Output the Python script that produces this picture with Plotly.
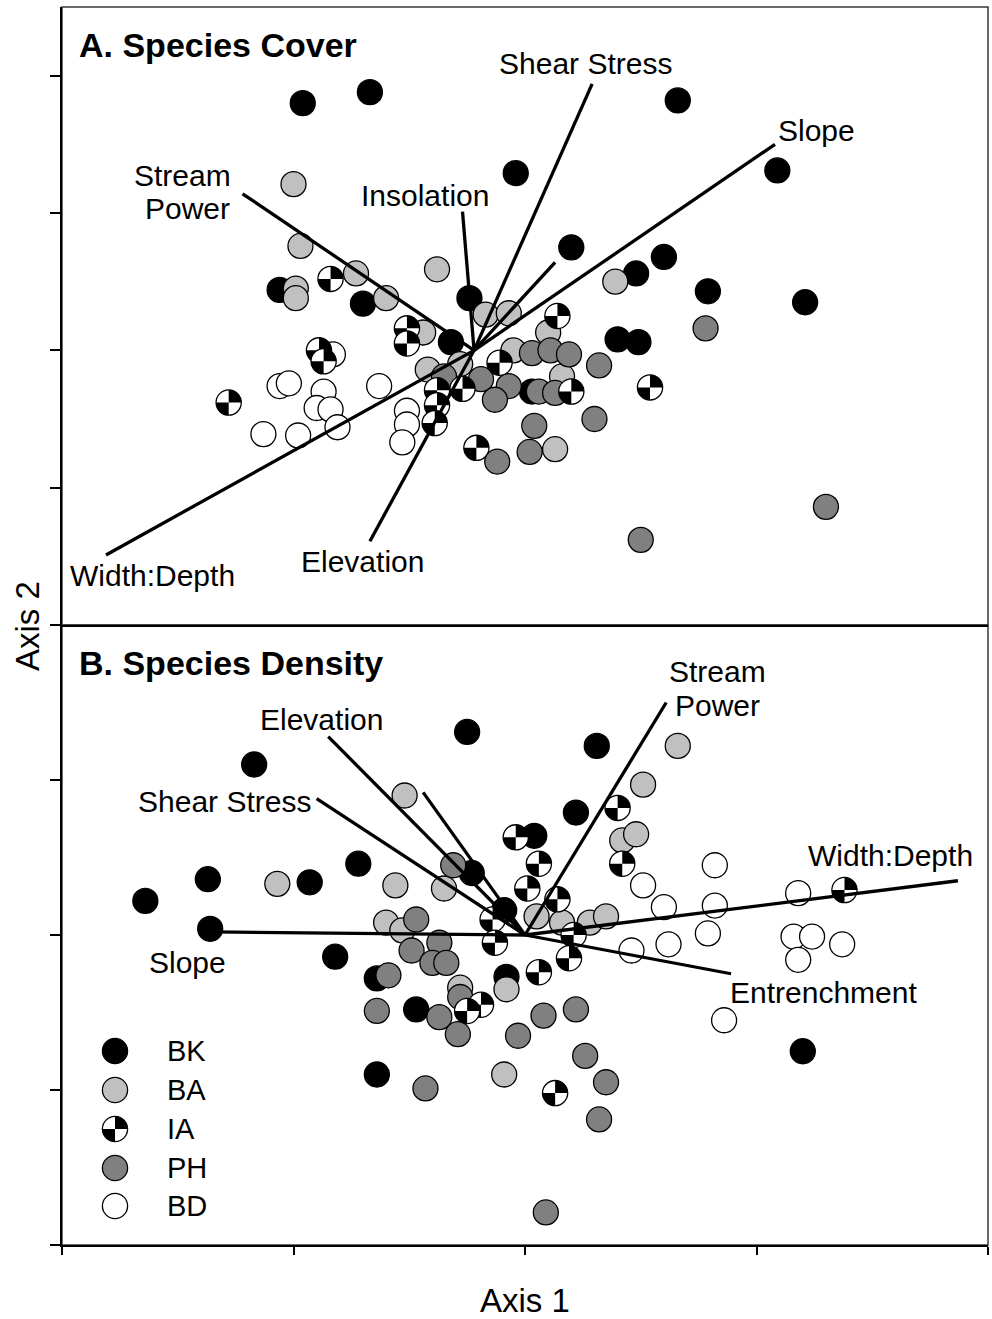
import numpy as np
import plotly.graph_objects as go
from plotly.subplots import make_subplots

# ---------------------------------------------------------------------------
# Ordination scores (Axis 1, Axis 2) by stream group
# ---------------------------------------------------------------------------
GROUPS = ["BK", "BA", "IA", "PH", "BD"]

# Panel A - species cover
cover_bk_x = [-0.96, -0.67, 0.66, -0.04, 1.09, 0.20, 0.48, 0.60, 0.79, 1.21, -0.24, -1.06, -0.70, -0.32, 0.40, 0.49, 0.03]
cover_bk_y = [1.80, 1.88, 1.82, 1.29, 1.31, 0.75, 0.56, 0.68, 0.43, 0.35, 0.38, 0.44, 0.34, 0.06, 0.08, 0.06, -0.30]

cover_ba_x = [-1.00, -0.97, -0.73, -0.38, -0.60, -0.99, -0.99, 0.39, -0.44, -0.17, -0.07, 0.10, -0.05, -0.42, -0.28, 0.16, 0.13]
cover_ba_y = [1.21, 0.76, 0.56, 0.59, 0.38, 0.45, 0.38, 0.50, 0.13, 0.26, 0.27, 0.13, 0.00, -0.14, -0.10, -0.19, -0.72]

cover_ia_x = [-1.28, -0.84, -0.51, -0.51, -0.89, -0.87, 0.14, -0.11, -0.38, -0.38, -0.39, -0.27, 0.20, 0.54, -0.21]
cover_ia_y = [-0.38, 0.52, 0.16, 0.05, 0.00, -0.08, 0.25, -0.09, -0.29, -0.40, -0.53, -0.28, -0.30, -0.27, -0.71]

cover_ph_x = [0.03, 0.11, 0.19, 0.32, 0.78, -0.35, -0.19, -0.07, -0.13, 0.06, 0.13, 0.30, 0.04, -0.12, 0.02, 1.30, 0.50]
cover_ph_y = [-0.02, 0.00, -0.03, -0.11, 0.16, -0.19, -0.21, -0.26, -0.36, -0.30, -0.31, -0.50, -0.55, -0.81, -0.74, -1.14, -1.38]

cover_bd_x = [-1.06, -1.02, -0.87, -0.90, -0.84, -0.81, -1.13, -0.98, -0.63, -0.83, -0.51, -0.51, -0.53]
cover_bd_y = [-0.26, -0.24, -0.30, -0.42, -0.43, -0.56, -0.61, -0.62, -0.26, -0.03, -0.44, -0.54, -0.67]

# Panel A - environmental vectors (tips), drawn from the centroid
cover_vec_names = ["Shear Stress", "Slope", "Stream Power", "Insolation", "Entrenchment", "Width:Depth", "Elevation"]
cover_vec_x = [0.29, 1.08, -1.22, -0.27, 0.13, -1.81, -0.67]
cover_vec_y = [1.94, 1.50, 1.14, 1.01, 0.64, -1.49, -1.39]
cover_origin = (-0.22, 0.00)

# Panel B - species density
density_bk_x = [-1.64, -1.37, -1.36, -1.17, -0.93, -0.72, -0.25, -0.23, -0.09, 0.04, 0.22, 0.31, -0.82, -0.64, -0.47, -0.64, -0.08, 1.20]
density_bk_y = [0.22, 0.36, 0.04, 1.10, 0.34, 0.46, 1.31, 0.40, 0.16, 0.64, 0.79, 1.22, -0.14, -0.28, -0.48, -0.90, -0.27, -0.75]

density_ba_x = [-1.07, -0.52, -0.56, -0.35, -0.60, -0.53, 0.05, 0.16, 0.28, 0.35, 0.42, 0.48, 0.51, 0.66, -0.28, -0.08, -0.09]
density_ba_y = [0.33, 0.90, 0.32, 0.30, 0.08, 0.03, 0.12, 0.08, 0.08, 0.12, 0.61, 0.65, 0.97, 1.22, -0.34, -0.35, -0.90]

density_ia_x = [-0.04, 0.06, 0.01, 0.14, 0.40, 0.42, -0.14, -0.13, 0.21, 0.19, 0.06, -0.19, -0.25, 0.13, 1.38]
density_ia_y = [0.63, 0.46, 0.30, 0.23, 0.82, 0.46, 0.10, -0.05, 0.00, -0.15, -0.24, -0.45, -0.49, -1.02, 0.29]

density_ph_x = [-0.31, -0.47, -0.49, -0.37, -0.40, -0.34, -0.59, -0.64, -0.37, -0.29, -0.28, -0.43, -0.03, 0.08, 0.22, 0.26, 0.35, 0.32, 0.09]
density_ph_y = [0.45, 0.10, -0.10, -0.05, -0.18, -0.18, -0.26, -0.49, -0.53, -0.64, -0.40, -0.99, -0.65, -0.52, -0.48, -0.78, -0.95, -1.19, -1.79]

density_bd_x = [0.82, 0.51, 0.60, 0.82, 1.18, 0.62, 0.79, 0.46, 1.16, 1.24, 1.18, 1.37, 0.86]
density_bd_y = [0.45, 0.32, 0.18, 0.19, 0.27, -0.06, 0.01, -0.10, -0.01, -0.01, -0.16, -0.06, -0.55]

density_vec_names = ["Slope", "Width:Depth", "Stream Power", "Entrenchment", "Elevation", "Shear Stress", "Insolation"]
density_vec_x = [-1.35, 1.87, 0.61, 0.89, -0.85, -0.90, -0.44]
density_vec_y = [0.02, 0.35, 1.50, -0.25, 1.28, 0.88, 0.92]
density_origin = (0.00, 0.00)

# Vector label placement (text, x, y) in axis units
cover_labels = [
    ("Shear Stress", 0.26, 2.09), ("Slope", 1.26, 1.60),
    ("Stream", -1.48, 1.27), ("Power", -1.46, 1.03),
    ("Insolation", -0.43, 1.13), ("Width:Depth", -1.61, -1.64),
    ("Elevation", -0.70, -1.54),
]
density_labels = [
    ("Elevation", -0.88, 1.39), ("Shear Stress", -1.30, 0.86),
    ("Stream", 0.83, 1.70), ("Power", 0.83, 1.48),
    ("Width:Depth", 1.58, 0.51), ("Slope", -1.46, -0.18),
    ("Entrenchment", 1.29, -0.37),
]

# ---------------------------------------------------------------------------
# Styling
# ---------------------------------------------------------------------------
FONT = "Liberation Sans, Arial, sans-serif"
FILL = {"BK": "#000000", "BA": "#c0c0c0", "PH": "#808080", "BD": "#ffffff"}
MARKER_SIZE = 25
RADIUS = 12.6           # pixel radius of the quartered IA symbol
OUTLINE = 1.3
LABEL_SIZE = 30
VECTOR_WIDTH = 3.3

W, H = 992, 1319
M_L, M_R, M_T, M_B = 62, 4, 7, 74
TOP_H, BOT_H = 618, 620
split = BOT_H / (TOP_H + BOT_H)

fig = make_subplots(rows=2, cols=1, vertical_spacing=0)

panels = [
    # (row, xref, yref, series, vectors, origin, labels)
    (1, "x", "y",
     {"BK": (cover_bk_x, cover_bk_y), "BA": (cover_ba_x, cover_ba_y),
      "IA": (cover_ia_x, cover_ia_y), "PH": (cover_ph_x, cover_ph_y),
      "BD": (cover_bd_x, cover_bd_y)},
     (cover_vec_names, cover_vec_x, cover_vec_y), cover_origin, cover_labels),
    (2, "x2", "y2",
     {"BK": (density_bk_x, density_bk_y), "BA": (density_ba_x, density_ba_y),
      "IA": (density_ia_x, density_ia_y), "PH": (density_ph_x, density_ph_y),
      "BD": (density_bd_x, density_bd_y)},
     (density_vec_names, density_vec_x, density_vec_y), density_origin, density_labels),
]


def wedge(a0, a1, r, n=18):
    """Closed pie-slice path in pixel offsets (y up)."""
    parts = ["M0,0"]
    for k in range(n + 1):
        t = np.radians(a0 + (a1 - a0) * k / n)
        parts.append(f"L{r * np.cos(t):.2f},{r * np.sin(t):.2f}")
    parts.append("Z")
    return " ".join(parts)


def quartered(xref, yref, x, y):
    """White circle with black upper-right and lower-left quarters."""
    base = dict(xref=xref, yref=yref, xsizemode="pixel", ysizemode="pixel",
                xanchor=x, yanchor=y, layer="above")
    return [
        dict(type="circle", x0=-RADIUS, x1=RADIUS, y0=-RADIUS, y1=RADIUS,
             fillcolor="white", line=dict(color="black", width=OUTLINE), **base),
        dict(type="path", path=wedge(0, 90, RADIUS), fillcolor="black",
             line=dict(width=0), **base),
        dict(type="path", path=wedge(180, 270, RADIUS), fillcolor="black",
             line=dict(width=0), **base),
    ]


shapes = []
annotations = []

for row, xref, yref, series, vectors, origin, labels in panels:
    # plain circles: BK first, then BD, BA, PH on top
    for g in ["BK", "BD", "BA", "PH"]:
        xs, ys = series[g]
        fig.add_trace(go.Scatter(
            x=xs, y=ys, mode="markers", name=g, showlegend=False,
            marker=dict(symbol="circle", size=MARKER_SIZE, color=FILL[g],
                        line=dict(color="black", width=OUTLINE)),
            hoverinfo="skip"), row=row, col=1)
    # quartered IA symbols
    for x, y in zip(*series["IA"]):
        shapes.extend(quartered(xref, yref, x, y))
    # environmental vectors
    names, vx, vy = vectors
    for name, x1, y1 in zip(names, vx, vy):
        shapes.append(dict(type="line", xref=xref, yref=yref, layer="above",
                           x0=origin[0], y0=origin[1], x1=x1, y1=y1,
                           line=dict(color="black", width=VECTOR_WIDTH)))
    for text, x, y in labels:
        annotations.append(dict(text=text, x=x, y=y, xref=xref, yref=yref,
                                showarrow=False, xanchor="center", yanchor="middle",
                                font=dict(family=FONT, size=LABEL_SIZE, color="black")))

# panel frames
for y0, y1 in [(split, 1.0), (0.0, split)]:
    shapes.append(dict(type="rect", xref="paper", yref="paper", x0=0, x1=1, y0=y0, y1=y1,
                       line=dict(color="#3a3a3a", width=1.5), layer="below"))

plot_w = W - M_L - M_R
plot_h = H - M_T - M_B


def px_to_paper(px, py):
    return (px - M_L) / plot_w, (H - M_B - py) / plot_h


# panel titles
for text, (px, py) in [("A. Species Cover", (77, 45)), ("B. Species Density", (77, 663))]:
    xp, yp = px_to_paper(px, py)
    annotations.append(dict(text=f"<b>{text}</b>", x=xp, y=yp, xref="paper", yref="paper",
                            showarrow=False, xanchor="left", yanchor="middle",
                            font=dict(family=FONT, size=34, color="black")))

# axis titles
xp, yp = px_to_paper(525, 1300)
annotations.append(dict(text="Axis 1", x=xp, y=yp, xref="paper", yref="paper",
                        showarrow=False, xanchor="center", yanchor="middle",
                        height=34, borderpad=0, valign="middle",
                        font=dict(family=FONT, size=33, color="black")))
xp, yp = px_to_paper(27, 626)
annotations.append(dict(text="Axis 2", x=xp, y=yp, xref="paper", yref="paper",
                        showarrow=False, xanchor="center", yanchor="middle", textangle=-90,
                        font=dict(family=FONT, size=33, color="black")))

# legend (lower-left of panel B)
legend_rows = [1051, 1090, 1129, 1168, 1206]
for g, py in zip(GROUPS, legend_rows):
    mx, my = px_to_paper(115, py)
    if g == "IA":
        shapes.extend(quartered("paper", "paper", mx, my))
    else:
        shapes.append(dict(type="circle", xref="paper", yref="paper",
                           xsizemode="pixel", ysizemode="pixel", xanchor=mx, yanchor=my,
                           x0=-RADIUS, x1=RADIUS, y0=-RADIUS, y1=RADIUS,
                           fillcolor=FILL[g], line=dict(color="black", width=OUTLINE),
                           layer="above"))
    tx, ty = px_to_paper(165, py)
    annotations.append(dict(text=g, x=tx, y=ty, xref="paper", yref="paper",
                            showarrow=False, xanchor="left", yanchor="middle",
                            font=dict(family=FONT, size=29, color="black")))

axis_common = dict(showgrid=False, zeroline=False, showticklabels=False,
                   showline=True, linecolor="black", linewidth=2)

fig.update_layout(
    width=W, height=H,
    margin=dict(l=M_L, r=M_R, t=M_T, b=M_B),
    plot_bgcolor="white", paper_bgcolor="white",
    font=dict(family=FONT, color="black"),
    shapes=shapes, annotations=annotations,
    xaxis=dict(range=[-2, 2], ticks="", domain=[0, 1], **axis_common),
    yaxis=dict(range=[-2, 2.5], domain=[split, 1.0], tickvals=[-2, -1, 0, 1, 2],
               ticks="outside", ticklen=10, tickwidth=1.5, tickcolor="black", **axis_common),
    xaxis2=dict(range=[-2, 2], domain=[0, 1], tickvals=[-2, -1, 0, 1, 2],
                ticks="outside", ticklen=8, tickwidth=2, tickcolor="black", **axis_common),
    yaxis2=dict(range=[-2, 2], domain=[0, split], tickvals=[-2, -1, 0, 1, 2],
                ticks="outside", ticklen=10, tickwidth=1.5, tickcolor="black", **axis_common),
    showlegend=False,
)

fig.write_html("out.html")
